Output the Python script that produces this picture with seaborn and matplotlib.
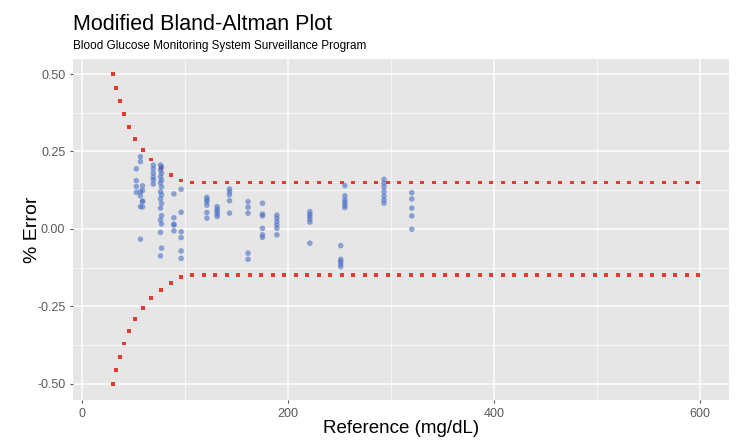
import numpy as np
import pandas as pd
import matplotlib
matplotlib.use("Agg")
import matplotlib.pyplot as plt
import seaborn as sns
from matplotlib.ticker import MultipleLocator

# ---- data -----------------------------------------------------------------
ref_mgdl = [52.5, 52.5, 52.5, 52.5,
            56.5, 56.5, 56.5, 56.5, 56.5, 56.5,
            58.5, 58.5, 58.5, 58.5, 58.5,
            69, 69, 69, 69, 69, 69,
            76, 77, 76, 77, 76, 77, 76, 77, 76, 77, 76, 77, 76, 77, 76, 77, 76, 77, 76,
            89, 89, 89, 89, 89,
            96, 96, 96, 96, 96, 96,
            121, 121, 121, 121, 121, 121,
            131, 131, 131, 131, 131,
            143, 143, 143, 143, 143,
            161, 161, 161, 161, 161,
            175, 175, 175, 175, 175, 175,
            189, 189, 189, 189, 189, 189,
            221, 221, 221, 221, 221, 221,
            251, 251, 251, 251, 251,
            255, 255, 255, 255, 255, 255,
            293, 293, 293, 293, 293, 293, 293,
            320, 320, 320, 320, 320]
pct_error = [0.194, 0.156, 0.137, 0.118,
             0.233, 0.217, 0.120, 0.107, 0.072, -0.033,
             0.139, 0.124, 0.090, 0.088, 0.071,
             0.206, 0.194, 0.180, 0.167, 0.158, 0.145,
             0.206, 0.200, 0.190, 0.180, 0.169, 0.158, 0.149, 0.136, 0.120, 0.110,
             0.097, 0.082, 0.067, 0.043, 0.029, 0.016, -0.011, -0.062, -0.087,
             0.113, 0.036, 0.015, 0.013, -0.006,
             0.128, 0.054, -0.009, -0.028, -0.071, -0.095,
             0.102, 0.095, 0.088, 0.077, 0.053, 0.035,
             0.072, 0.063, 0.056, 0.048, 0.040,
             0.129, 0.120, 0.110, 0.091, 0.051,
             0.088, 0.070, 0.051, -0.078, -0.098,
             0.083, 0.048, 0.042, 0.002, -0.019, -0.027,
             0.045, 0.035, 0.024, 0.013, 0.002, -0.019,
             0.056, 0.047, 0.040, 0.031, 0.022, -0.046,
             -0.054, -0.098, -0.105, -0.113, -0.122,
             0.140, 0.107, 0.094, 0.086, 0.077, 0.069,
             0.160, 0.147, 0.135, 0.120, 0.106, 0.094, 0.083,
             0.117, 0.097, 0.067, 0.042, -0.001]

# acceptance limits: +/-15 mg/dL below 100 mg/dL, +/-15% above
limit_mgdl = 15
limit_pct = 0.15
cutoff = 100
x_start, x_end = 30, 600

x_ticks = [0, 200, 400, 600]
y_ticks = [-0.50, -0.25, 0.00, 0.25, 0.50]
y_tick_labels = ["-0.50", "-0.25", "0.00", "0.25", "0.50"]

title = "Modified Bland-Altman Plot"
subtitle = "Blood Glucose Monitoring System Surveillance Program"
x_label = "Reference (mg/dL)"
y_label = "% Error"

# ---- build ---------------------------------------------------------------
df = pd.DataFrame({"ref": ref_mgdl, "err": pct_error})

sns.set_theme(style="darkgrid")
fam = ["Liberation Sans Narrow", "Liberation Sans", "DejaVu Sans"]
plt.rcParams["font.family"] = fam
plt.rcParams["figure.facecolor"] = "white"

fig = plt.figure(figsize=(7.47, 4.41), dpi=100)
ax = fig.add_axes([0.0977, 0.093, 0.9759 - 0.0977, 0.8673 - 0.093])
ax.set_facecolor("#E6E6E6")
ax.set_xlim(-9, 628)
ax.set_ylim(-0.552, 0.55)

# dotted limit line: dots evenly spaced along the drawn path (like a dotted linetype);
# the picture is slightly squeezed horizontally, so x distances are stretched back
curve_x = np.linspace(x_start, cutoff, 2000)
path_x = np.concatenate([curve_x, np.linspace(cutoff, x_end, 4000)[1:]])
path_y = np.where(path_x < cutoff, limit_mgdl / path_x, limit_pct)
x_squeeze = 0.81
dot_spacing_px = 11.5 / x_squeeze
limit_parts = []
for sign, side in [(1, "upper"), (-1, "lower")]:
    disp = ax.transData.transform(np.column_stack([path_x, sign * path_y]))
    seg = np.hypot(np.diff(disp[:, 0]) / x_squeeze, np.diff(disp[:, 1]))
    arc = np.concatenate([[0], np.cumsum(seg)])
    targets = np.arange(0, arc[-1] + 1e-9, dot_spacing_px)
    dx = np.interp(targets, arc, disp[:, 0])
    dy = np.interp(targets, arc, disp[:, 1])
    data_pts = ax.transData.inverted().transform(np.column_stack([dx, dy]))
    limit_parts.append(pd.DataFrame({"x": data_pts[:, 0], "y": data_pts[:, 1], "side": side}))
lim_df = pd.concat(limit_parts, ignore_index=True)

sns.scatterplot(data=lim_df, x="x", y="y", ax=ax, color="#E8392C", marker="s",
                s=8, edgecolor="none", linewidth=0, zorder=3)

sns.scatterplot(data=df, x="ref", y="err", ax=ax, color="#4A70C6", alpha=0.6,
                s=16, edgecolor="none", zorder=4)

ax.set_xlim(-9, 628)
ax.set_ylim(-0.552, 0.55)
ax.set_xticks(x_ticks)
ax.set_yticks(y_ticks)
ax.set_yticklabels(y_tick_labels)
ax.xaxis.set_minor_locator(MultipleLocator(100))
ax.yaxis.set_minor_locator(MultipleLocator(0.125))
ax.grid(which="major", color="white", linewidth=1.1)
ax.grid(which="minor", color="white", linewidth=0.5)
ax.set_axisbelow(True)
for s in ax.spines.values():
    s.set_visible(False)
ax.tick_params(axis="both", which="major", length=2.5, width=0.8,
               color="#555555", labelcolor="#5A5A5A", labelsize=9, pad=3,
               bottom=True, left=True)
ax.tick_params(axis="both", which="minor", length=0)

ax.set_xlabel(x_label, fontsize=13.5, color="black")
ax.set_ylabel(y_label, fontsize=14, color="black")
ax.xaxis.set_label_coords(0.5, -0.058)
ax.yaxis.set_label_coords(-0.048, 0.5)

fig.text(0.0977, 0.932, title, fontsize=15.5, color="black", ha="left", va="baseline")
fig.text(0.0977, 0.89, subtitle, fontsize=8.5, color="black", ha="left", va="baseline")

fig.savefig("out.png", dpi=100)
